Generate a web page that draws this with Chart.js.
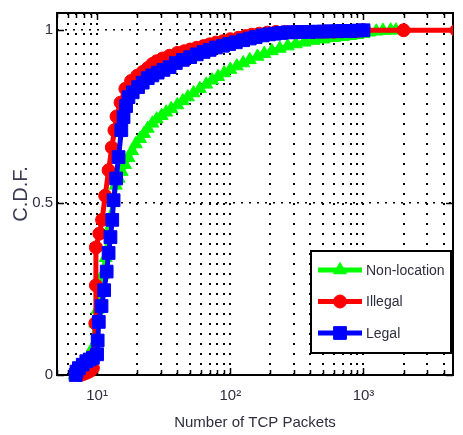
<!DOCTYPE html>
<html><head><meta charset="utf-8">
<script src="https://cdn.jsdelivr.net/npm/chart.js@4/dist/chart.umd.min.js"></script>
<style>html,body{margin:0;padding:0;background:#fff;overflow:hidden}#wrap{width:463px;height:435px}</style>
</head><body><div id="wrap"><canvas id="c" width="463" height="435"></canvas></div>
<script>
// ---- data ----
const seriesNames = ['Non-location', 'Illegal', 'Legal'];

const nonLocX = [6.8,7.2,7.7,8.3,8.9,9.3,9.7,10.1,10.6,11.0,11.6,12.2,12.7,13.2,13.8,14.5,15.3,16.2,17.2,18.3,19.5,21,22.5,24,26,28,30.5,33,36,40,44,48,53,59,66,73,81,90,100,112,125,140,160,180,205,235,270,310,360,420,500,600,700,800,900,1000,1100,1250,1400,1600,1750];
const nonLocY = [0,0.005,0.01,0.02,0.04,0.08,0.15,0.19,0.24,0.29,0.34,0.42,0.46,0.50,0.55,0.57,0.59,0.61,0.63,0.65,0.67,0.685,0.70,0.715,0.73,0.742,0.752,0.762,0.772,0.783,0.795,0.806,0.818,0.83,0.843,0.855,0.865,0.876,0.886,0.896,0.905,0.914,0.924,0.932,0.94,0.947,0.954,0.96,0.965,0.97,0.974,0.978,0.981,0.984,0.987,0.99,0.994,0.997,0.999,1.0,1.0];

const illegalX = [7.5,7.9,8.4,8.9,9.3,9.6,9.7,9.8,9.8,10.4,10.9,11.5,12.2,12.9,13.5,14.0,15.0,16.3,18,20,22,24,26,28,31,35,40,45,50,56,63,70,78,88,100,115,130,145,165,190,220,260,300,350,420,500,600,700,800,900,1000,2000,5000];
const illegalY = [0,0.003,0.007,0.012,0.02,0.06,0.15,0.26,0.37,0.41,0.45,0.52,0.594,0.66,0.71,0.75,0.79,0.83,0.853,0.868,0.879,0.89,0.902,0.91,0.918,0.926,0.934,0.939,0.944,0.949,0.954,0.959,0.964,0.968,0.974,0.978,0.983,0.987,0.99,0.993,0.995,0.995,0.995,0.995,0.995,0.996,0.996,0.997,0.997,0.998,1.0,1.0,1.0];

const legalX = [6.9,7.0,7.3,7.8,8.3,8.8,9.3,10.0,10.1,10.3,10.8,11.3,11.8,12.2,12.6,13.0,13.3,13.9,14.5,15.2,15.8,16.5,17.2,18.5,20.3,22,24,26,28.5,31.5,35,39,44,50,56,63,70,78,88,98,110,125,140,155,175,195,215,240,268,300,340,390,440,500,560,630,700,800,900,1000];
const legalY = [0,0.01,0.02,0.03,0.04,0.045,0.05,0.06,0.10,0.154,0.20,0.246,0.30,0.354,0.40,0.45,0.507,0.57,0.632,0.71,0.748,0.78,0.806,0.82,0.835,0.848,0.861,0.869,0.877,0.885,0.893,0.905,0.914,0.922,0.93,0.937,0.943,0.95,0.955,0.96,0.965,0.971,0.976,0.98,0.985,0.988,0.99,0.992,0.994,0.994,0.995,0.995,0.996,0.996,0.997,0.997,0.998,0.998,0.999,1.0];

const xTickValues = [5,6,7,8,9,10,20,30,40,50,60,70,80,90,100,200,300,400,500,600,700,800,900,1000,2000,3000,4000];
const xLabelValues = [10, 100, 1000];
const xLabelTexts = ['10\u00B9', '10\u00B2', '10\u00B3'];
const yTickValues = [0, 0.5, 1];
const yTickLabels = ['0', '0.5', '1'];

// ---- build ----
const zip = (xs, ys) => xs.map((x, i) => ({x: x, y: ys[i]}));
const FONT = "'Liberation Sans',Arial,sans-serif";
const TXT = '#2e2e3e';
const CLIP = {left: 12, right: 0, top: 12, bottom: 12};

const datasets = [
  {label: seriesNames[0], data: zip(nonLocX, nonLocY), borderColor: '#00ff00', backgroundColor: '#00ff00',
   pointStyle: 'triangle', pointRadius: 7.5, pointBorderWidth: 1, borderWidth: 5, order: 2, clip: CLIP},
  {label: seriesNames[1], data: zip(illegalX, illegalY), borderColor: '#ff0000', backgroundColor: '#ff0000',
   pointStyle: 'circle', pointRadius: 6.5, pointBorderWidth: 1, borderWidth: 5, order: 1, clip: CLIP},
  {label: seriesNames[2], data: zip(legalX, legalY), borderColor: '#0000ff', backgroundColor: '#0000ff',
   pointStyle: 'rect', pointRadius: 9, pointBorderWidth: 1, borderWidth: 5, order: 0, clip: CLIP}
];

const framePlugin = {
  id: 'frame',
  beforeDatasetsDraw(chart) {
    const {ctx, chartArea: a, scales} = chart;
    ctx.save();
    ctx.strokeStyle = '#000';
    ctx.lineWidth = 2;
    ctx.strokeRect(a.left, a.top, a.right - a.left, a.bottom - a.top);
    ctx.lineWidth = 1.5;
    ctx.beginPath();
    xTickValues.forEach(v => {
      const px = Math.round(scales.x.getPixelForValue(v)) + 0.5;
      const len = xLabelValues.includes(v) ? 7 : 5;
      ctx.moveTo(px, a.bottom); ctx.lineTo(px, a.bottom - len);
      ctx.moveTo(px, a.top); ctx.lineTo(px, a.top + len);
    });
    yTickValues.forEach(v => {
      const py = Math.round(scales.y.getPixelForValue(v)) + 0.5;
      ctx.moveTo(a.left, py); ctx.lineTo(a.left + 7, py);
      ctx.moveTo(a.right, py); ctx.lineTo(a.right - 7, py);
    });
    ctx.stroke();
    ctx.restore();
  },
  afterDraw(chart) {
    const ctx = chart.ctx;
    const bx = 311, by = 251, bw = 140, bh = 102;
    ctx.save();
    ctx.fillStyle = '#fff';
    ctx.fillRect(bx, by, bw, bh);
    ctx.strokeStyle = '#000';
    ctx.lineWidth = 2;
    ctx.strokeRect(bx, by, bw, bh);
    chart.data.datasets.forEach((ds, i) => {
      const y = 270 + i * 31.5;
      ctx.strokeStyle = ds.borderColor;
      ctx.lineWidth = 5;
      ctx.beginPath(); ctx.moveTo(318, y); ctx.lineTo(362, y); ctx.stroke();
      ctx.fillStyle = ds.backgroundColor;
      ctx.lineWidth = 1;
      Chart.helpers.drawPoint(ctx, {pointStyle: ds.pointStyle, radius: ds.pointRadius, borderWidth: 1, rotation: 0}, 340, y);
      ctx.fillStyle = TXT;
      ctx.font = '14px ' + FONT;
      ctx.textBaseline = 'middle';
      ctx.textAlign = 'left';
      ctx.fillText(ds.label, 366, y + 1);
    });
    ctx.restore();
  }
};

Chart.defaults.font.family = FONT;
Chart.defaults.color = TXT;

new Chart(document.getElementById('c'), {
  type: 'line',
  data: {datasets: datasets},
  options: {
    responsive: false,
    animation: false,
    events: [],
    layout: {padding: {top: 13, right: 1, left: 0, bottom: 0}},
    elements: {line: {tension: 0}},
    plugins: {legend: {display: false}, tooltip: {enabled: false}},
    scales: {
      x: {
        type: 'logarithmic', min: 5, max: 4700,
        afterBuildTicks: s => { s.ticks = xTickValues.map(v => ({value: v})); },
        afterFit: s => { s.height = 60; },
        ticks: {
          autoSkip: false, maxRotation: 0, padding: 12,
          font: {size: 15}, color: TXT,
          callback: v => { const i = xLabelValues.indexOf(v); return i >= 0 ? xLabelTexts[i] : ''; }
        },
        grid: {drawTicks: false, color: '#000', lineWidth: 2},
        border: {display: false, dash: [2, 8]},
        title: {display: true, text: 'Number of TCP Packets', font: {size: 15}, color: TXT, padding: {top: 0, bottom: 3}}
      },
      y: {
        type: 'linear', min: 0, max: 1.05,
        afterBuildTicks: s => { s.ticks = yTickValues.map(v => ({value: v})); },
        afterFit: s => { s.width = 57; },
        ticks: {
          padding: 4, font: {size: 15}, color: TXT,
          callback: v => { const i = yTickValues.indexOf(v); return i >= 0 ? yTickLabels[i] : ''; }
        },
        grid: {drawTicks: false, color: '#000', lineWidth: 1.5},
        border: {display: false, dash: [2, 6]},
        title: {display: true, text: 'C.D.F.', font: {size: 20}, color: '#3a3a55', padding: {top: 9, bottom: 0}}
      }
    }
  },
  plugins: [framePlugin]
});
</script>
</body></html>
